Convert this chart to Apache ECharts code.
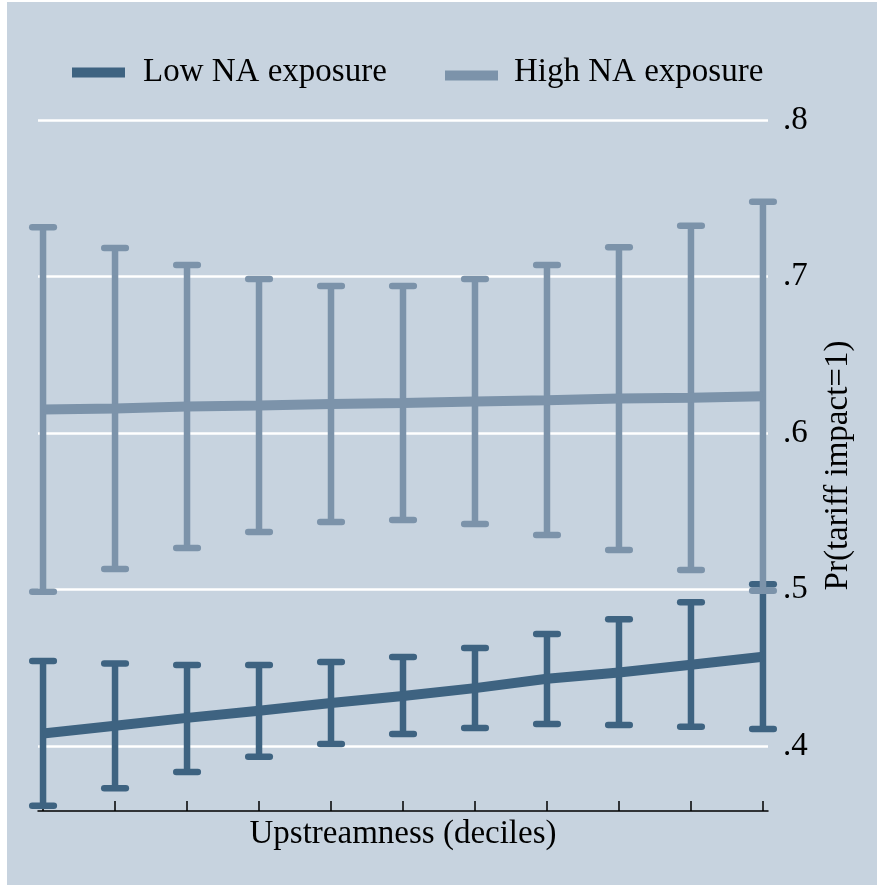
<!DOCTYPE html>
<html><head><meta charset="utf-8">
<script src="https://cdn.jsdelivr.net/npm/echarts@6/dist/echarts.min.js"></script>
<style>html,body{margin:0;padding:0;background:#ffffff;}#chart{position:absolute;left:7px;top:2px;width:870px;height:883px;}</style>
</head><body><div id="chart"></div>
<script>
// Upstreamness positions (deciles, 11 evaluation points)
const xValues = [0, 1, 2, 3, 4, 5, 6, 7, 8, 9, 10];
const xTicks = [0, 1, 2, 3, 4, 5, 6, 7, 8, 9, 10];
const yTicks = [0.4, 0.5, 0.6, 0.7, 0.8];

const lowMean  = [0.408, 0.413, 0.418, 0.4225, 0.4275, 0.432, 0.437, 0.443, 0.447, 0.452, 0.457];
const lowUpper = [0.4543, 0.4528, 0.4518, 0.4518, 0.4537, 0.4569, 0.4626, 0.4716, 0.481, 0.4918, 0.5033];
const lowLower = [0.3619, 0.373, 0.3834, 0.3932, 0.4013, 0.4077, 0.4115, 0.4141, 0.4134, 0.4123, 0.4109];

const highMean  = [0.615, 0.6157, 0.6169, 0.6176, 0.6185, 0.6192, 0.6202, 0.621, 0.622, 0.6225, 0.6235];
const highUpper = [0.7314, 0.7182, 0.7073, 0.6984, 0.6939, 0.6939, 0.6984, 0.7073, 0.7187, 0.7325, 0.7478];
const highLower = [0.4986, 0.5131, 0.5265, 0.5367, 0.5431, 0.5444, 0.5419, 0.5348, 0.5252, 0.5125, 0.4992];

const lowColor = '#3e6381';
const highColor = '#7c93aa';
const FONT = '"Liberation Serif", "Times New Roman", serif';

function errorBars(name, lower, upper, color) {
  return {
    type: 'custom',
    name: name,
    data: xValues.map((x, i) => [x, lower[i], upper[i]]),
    encode: { x: 0, y: [1, 2] },
    clip: false,
    renderItem: function (params, api) {
      const lo = api.coord([api.value(0), api.value(1)]);
      const hi = api.coord([api.value(0), api.value(2)]);
      const half = 10.8;
      const capStyle = { stroke: color, lineWidth: 6.5, lineCap: 'round' };
      return {
        type: 'group',
        children: [
          { type: 'line', shape: { x1: lo[0], y1: lo[1], x2: hi[0], y2: hi[1] }, style: { stroke: color, lineWidth: 6.5 } },
          { type: 'line', shape: { x1: lo[0] - half, y1: lo[1], x2: lo[0] + half, y2: lo[1] }, style: capStyle },
          { type: 'line', shape: { x1: hi[0] - half, y1: hi[1], x2: hi[0] + half, y2: hi[1] }, style: capStyle }
        ]
      };
    }
  };
}

const chart = echarts.init(document.getElementById('chart'), null, { renderer: 'canvas' });
chart.setOption({
  backgroundColor: '#c7d3df',
  animation: false,
  textStyle: { fontFamily: FONT },
  grid: { left: 31, right: 109, top: 118, bottom: 74, containLabel: false },
  legend: [
    {
      data: ['Low NA exposure'], left: 65, top: 54, padding: 0,
      icon: 'rect', itemWidth: 53, itemHeight: 10,
      textStyle: { fontFamily: FONT, fontSize: 33, color: '#000', padding: [2, 0, 0, 13] }
    },
    {
      data: ['High NA exposure'], left: 438, top: 54, padding: 0,
      icon: 'rect', itemWidth: 53, itemHeight: 10,
      formatter: '{a|{name}}',
      textStyle: {
        fontFamily: FONT, fontSize: 33, color: '#000', padding: [0, 0, 0, 11],
        rich: { a: { fontFamily: FONT, fontSize: 33, color: '#000', padding: [0, 0, 6, 0] } }
      }
    }
  ],
  xAxis: {
    type: 'value', min: -0.07, max: 10.07,
    name: 'Upstreamness (deciles)', nameLocation: 'middle', nameGap: 7,
    nameTextStyle: { fontFamily: FONT, fontSize: 33, color: '#000' },
    axisLine: { show: true, lineStyle: { color: '#000', width: 1.5 } },
    axisTick: { show: true, inside: true, length: 10, customValues: xTicks, lineStyle: { color: '#000', width: 1.5 } },
    axisLabel: { show: false },
    splitLine: { show: false }
  },
  yAxis: {
    type: 'value', position: 'right', min: 0.3585, max: 0.8,
    name: 'Pr(tariff impact=1)', nameLocation: 'middle', nameGap: 54, nameRotate: 90,
    nameTextStyle: { fontFamily: FONT, fontSize: 33, color: '#000' },
    axisLine: { show: false },
    axisTick: { show: false, customValues: yTicks },
    axisLabel: {
      show: true, customValues: yTicks, margin: 15, color: '#000', fontFamily: FONT, fontSize: 33,
      formatter: v => String(Math.round(v * 10) / 10).replace(/^0/, '')
    },
    splitLine: { show: true, lineStyle: { color: '#ffffff', width: 2.5 } }
  },
  series: [
    errorBars('Low CI', lowLower, lowUpper, lowColor),
    errorBars('High CI', highLower, highUpper, highColor),
    {
      type: 'line', name: 'Low NA exposure', data: xValues.map((x, i) => [x, lowMean[i]]),
      symbol: 'none', showSymbol: false, lineStyle: { color: lowColor, width: 10 }, itemStyle: { color: lowColor }
    },
    {
      type: 'line', name: 'High NA exposure', data: xValues.map((x, i) => [x, highMean[i]]),
      symbol: 'none', showSymbol: false, lineStyle: { color: highColor, width: 10 }, itemStyle: { color: highColor }
    }
  ]
});
</script>
</body></html>
